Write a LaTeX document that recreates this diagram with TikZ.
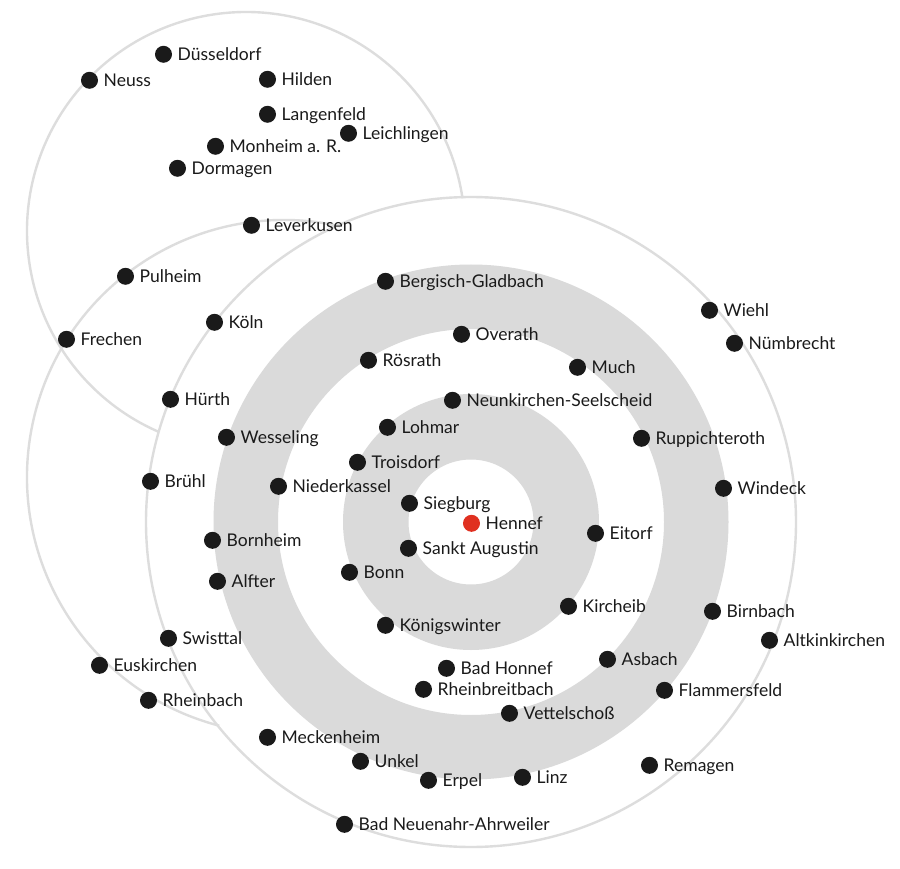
\documentclass[tikz,border=0pt]{standalone}
\usepackage{fontspec}
\setmainfont{Lato}
\definecolor{ringgray}{HTML}{DADADA}
\definecolor{linegray}{HTML}{DDDDDD}
\definecolor{inkdark}{HTML}{1A1A1A}
\definecolor{homered}{HTML}{E03020}
\tikzset{
  citydot/.style={circle,fill=inkdark,draw=none,minimum size=17pt,inner sep=0pt},
  homedot/.style={citydot,fill=homered},
  citytext/.style={anchor=base west,inner sep=0pt,text=inkdark,font=\fontsize{17.5}{20}\selectfont},
  ringline/.style={draw=linegray,line width=2.4pt},
}
\newcommand{\citymark}[5][citydot]{%
  \node[#1] (d#2) at (#3+0.5,-#4-0.3) {};
  \node[citytext] (t#2) at (#3+14.5,-#4-6.6) {#5};
}
\begin{document}
\begin{tikzpicture}[x=1pt,y=1pt]
\useasboundingbox (0,0) rectangle (900,-869);
\fill[white] (0,0) rectangle (900,-869);
\fill[ringgray,even odd rule] (471,-522) circle[radius=62.5pt] circle[radius=128pt]
  circle[radius=193pt] circle[radius=257.5pt];
\draw[ringline] (471,-522) circle[radius=325pt];
\draw[ringline] (246,-231) ++(8.6:219pt) arc[start angle=8.6,end angle=246.4,radius=219pt];
\draw[ringline] (284,-477) ++(77.4:257pt) arc[start angle=77.4,end angle=255.4,radius=257pt];
\citymark{a1}{163}{54}{Düsseldorf}
\citymark{a2}{89}{80}{Neuss}
\citymark{a3}{267}{79}{Hilden}
\citymark{a4}{267}{114}{Langenfeld}
\citymark{a5}{348}{133}{Leichlingen}
\citymark{a6}{215}{146}{Monheim a. R.}
\citymark{a7}{177}{168}{Dormagen}
\citymark{a8}{251}{225}{Leverkusen}
\citymark{a9}{125}{276}{Pulheim}
\citymark{b1}{66}{339}{Frechen}
\citymark{b2}{214}{322}{Köln}
\citymark{b3}{170}{399}{Hürth}
\citymark{b4}{226}{437}{Wesseling}
\citymark{b5}{150}{481}{Brühl}
\citymark{b6}{278}{486}{Niederkassel}
\citymark{b7}{357}{462}{Troisdorf}
\citymark{b8}{387}{427}{Lohmar}
\citymark{b9}{452}{400}{Neunkirchen-Seelscheid}
\citymark{c1}{368}{360}{Rösrath}
\citymark{c2}{461}{334}{Overath}
\citymark{c3}{577}{367}{Much}
\citymark{c4}{385}{281}{Bergisch-Gladbach}
\citymark{c5}{709}{310}{Wiehl}
\citymark{c6}{734}{343}{Nümbrecht}
\citymark{c7}{641}{438}{Ruppichteroth}
\citymark{c8}{723}{488}{Windeck}
\citymark{c9}{409}{503}{Siegburg}
\citymark[homedot]{d1}{471}{523}{Hennef}
\citymark{d2}{408}{548}{Sankt Augustin}
\citymark{d3}{595}{533}{Eitorf}
\citymark{d4}{349}{572}{Bonn}
\citymark{d5}{212}{540}{Bornheim}
\citymark{d6}{217}{581}{Alfter}
\citymark{d7}{568}{606}{Kircheib}
\citymark{d8}{385}{625}{Königswinter}
\citymark{d9}{712}{611}{Birnbach}
\citymark{e1}{769}{640}{Altkinkirchen}
\citymark{e2}{168}{638}{Swisttal}
\citymark{e3}{99}{665}{Euskirchen}
\citymark{e4}{446}{668}{Bad Honnef}
\citymark{e5}{607}{659}{Asbach}
\citymark{e6}{423}{689}{Rheinbreitbach}
\citymark{e7}{664}{690}{Flammersfeld}
\citymark{e8}{148}{700}{Rheinbach}
\citymark{e9}{509}{713}{Vettelschoß}
\citymark{f1}{267}{737}{Meckenheim}
\citymark{f2}{360}{761}{Unkel}
\citymark{f3}{428}{780}{Erpel}
\citymark{f4}{522}{777}{Linz}
\citymark{f5}{649}{765}{Remagen}
\citymark{f6}{344}{824}{Bad Neuenahr-Ahrweiler}
\end{tikzpicture}
\end{document}
